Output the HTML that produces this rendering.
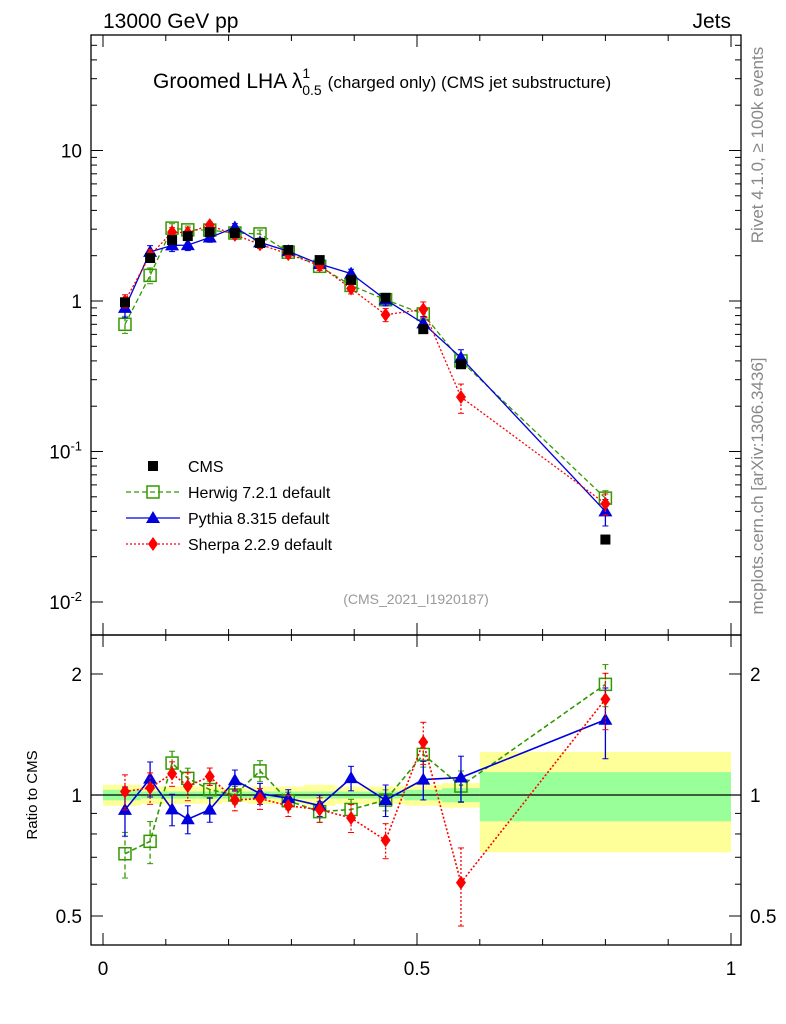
<!DOCTYPE html>
<html><head><meta charset="utf-8"><style>
body{margin:0;background:#fff;font-family:"Liberation Sans",sans-serif;}
svg{display:block}
text{font-family:"Liberation Sans",sans-serif;}
</style></head><body>
<svg id="c" width="786" height="1024" xmlns="http://www.w3.org/2000/svg"></svg>
<script>
const xs=[0.035,0.075,0.11,0.135,0.17,0.21,0.25,0.295,0.345,0.395,0.45,0.51,0.57,0.8];
const edges=[0,0.06,0.09,0.125,0.15,0.19,0.23,0.27,0.32,0.37,0.42,0.48,0.54,0.6,1.0];
const cms=[0.98,1.93,2.54,2.7,2.87,2.83,2.43,2.18,1.87,1.38,1.05,0.65,0.38,0.026];
const herwig=[0.70,1.48,3.05,2.97,2.96,2.83,2.79,2.11,1.70,1.27,1.02,0.82,0.40,0.049];
const pythia=[0.90,2.12,2.34,2.35,2.64,3.08,2.45,2.14,1.76,1.52,1.02,0.71,0.42,0.040];
const sherpa=[1.00,2.01,2.87,2.84,3.19,2.75,2.38,2.05,1.72,1.21,0.81,0.88,0.23,0.045];
const herwigErr=[0.13,0.12,0.07,0.06,0.05,0.05,0.06,0.05,0.06,0.06,0.06,0.07,0.09,0.12];
const pythiaErr=[0.14,0.10,0.09,0.08,0.07,0.06,0.06,0.05,0.06,0.07,0.09,0.11,0.13,0.20];
const sherpaErr=[0.10,0.09,0.07,0.08,0.05,0.06,0.06,0.06,0.07,0.08,0.10,0.12,0.22,0.16];
const bandOuter=[0.06,0.05,0.05,0.05,0.05,0.04,0.05,0.05,0.06,0.05,0.05,0.06,0.07,0.28];
const bandInner=[0.03,0.02,0.02,0.02,0.02,0.02,0.02,0.02,0.02,0.02,0.02,0.03,0.04,0.14];
const mainTicks=[["10",10],["1",1],["10^-1",0.1],["10^-2",0.01]];
const ratioTicks=[["2",2],["1",1],["0.5",0.5]];
const xTicks=[["0",0],["0.5",0.5],["1",1]];

const svg=document.getElementById('c');
const NS='http://www.w3.org/2000/svg';
function el(t,a,p){const e=document.createElementNS(NS,t);for(const k in a)e.setAttribute(k,a[k]);(p||svg).appendChild(e);return e;}
const X=v=>103+628*v;
const Y=v=>301-150.5*Math.log10(v);
const R=v=>795-402*Math.log10(v);
const L=91,Rt=741,T=35,M=635,B=945;

for(let i=0;i<xs.length;i++){
 const x0=X(edges[i]),x1=X(edges[i+1]);
 const b=el('rect',{x:x0,y:R(1+bandOuter[i]),width:x1-x0,height:R(1-bandOuter[i])-R(1+bandOuter[i]),fill:'#ffff99'});
 
 
}
for(let i=0;i<xs.length;i++){
 const x0=X(edges[i]),x1=X(edges[i+1]);
 const b=el('rect',{x:x0,y:R(1+bandInner[i]),width:x1-x0,height:R(1-bandInner[i])-R(1+bandInner[i]),fill:'#99ff99'});
 
 
}
el('line',{x1:L,x2:Rt,y1:R(1),y2:R(1),stroke:'#000','stroke-width':1.3});

el('rect',{x:L,y:T,width:Rt-L,height:M-T,fill:'none',stroke:'#000','stroke-width':1.3});
el('rect',{x:L,y:M,width:Rt-L,height:B-M,fill:'none',stroke:'#000','stroke-width':1.3});

for(let d=-2;d<=1;d++){for(let m=1;m<10;m++){const v=m*Math.pow(10,d);const y=Y(v);if(y<T||y>M)continue;const len=m==1?12:6;
 el('line',{x1:L,x2:L+len,y1:y,y2:y,stroke:'#000'});el('line',{x1:Rt,x2:Rt-len,y1:y,y2:y,stroke:'#000'});}}
for(const [lab,v] of mainTicks){
 const t=el('text',{x:82,y:Y(v)+7,'font-size':19,'text-anchor':'end'});
 if(lab.includes('^')){const p=lab.split('^');t.textContent=p[0];const s=el('tspan',{dy:-8,'font-size':13},t);s.textContent=p[1];}
 else t.textContent=lab;
 
 
}
for(const v of [0.5,0.6,0.7,0.8,0.9,1,2]){const y=R(v);const len=(v==1||v==2||v==0.5)?12:6;
 el('line',{x1:L,x2:L+len,y1:y,y2:y,stroke:'#000'});el('line',{x1:Rt,x2:Rt-len,y1:y,y2:y,stroke:'#000'});}
for(const [lab,v] of ratioTicks){
 const a=el('text',{x:82,y:R(v)+7,'font-size':19,'text-anchor':'end'});a.textContent=lab;
 
 
 const b=el('text',{x:750,y:R(v)+7,'font-size':19});b.textContent=lab;
 
 
}
for(let i=0;i<=10;i++){const v=i/10,x=X(v),len=i%5==0?12:6;
 el('line',{x1:x,x2:x,y1:B,y2:B-len,stroke:'#000'});el('line',{x1:x,x2:x,y1:M,y2:M-len,stroke:'#000'});
 el('line',{x1:x,x2:x,y1:M,y2:M+len,stroke:'#000'});el('line',{x1:x,x2:x,y1:T,y2:T+len,stroke:'#000'});}
for(const [lab,v] of xTicks){const t=el('text',{x:X(v),y:975,'font-size':19,'text-anchor':'middle'});t.textContent=lab;
 
 }

function marker(kind,x,y,color,g){
 if(kind=='sq')el('rect',{x:x-6,y:y-6,width:12,height:12,fill:'none',stroke:color,'stroke-width':1.5},g);
 if(kind=='tri')el('polygon',{points:`${x},${y-7} ${x-7},${y+5} ${x+7},${y+5}`,fill:color},g);
 if(kind=='dia')el('polygon',{points:`${x},${y-7} ${x-5},${y} ${x},${y+7} ${x+5},${y}`,fill:color},g);
 if(kind=='box')el('rect',{x:x-5,y:y-5,width:10,height:10,fill:color},g);
}
const series=[
 {name:'herwig',vals:herwig,err:herwigErr,color:'#339900',dash:'5,3',kind:'sq'},
 {name:'pythia',vals:pythia,err:pythiaErr,color:'#0000dd',dash:'',kind:'tri'},
 {name:'sherpa',vals:sherpa,err:sherpaErr,color:'#ff0000',dash:'2,2',kind:'dia'}];
for(const s of series){
 const g=el('g',{});
 
 
 const ptsM=xs.map((x,i)=>X(x)+','+Y(s.vals[i])).join(' ');
 el('polyline',{points:ptsM,fill:'none',stroke:s.color,'stroke-width':1.3,'stroke-dasharray':s.dash},g);
 const ptsR=xs.map((x,i)=>X(x)+','+R(s.vals[i]/cms[i])).join(' ');
 el('polyline',{points:ptsR,fill:'none',stroke:s.color,'stroke-width':1.6,'stroke-dasharray':s.dash},g);
 xs.forEach((x,i)=>{
  const v=s.vals[i],e=s.err[i],r=v/cms[i],px=X(x);
  for(const [f,a,b] of [[Y,v*(1+e),v*(1-e)],[R,r*(1+e),r*(1-e)]]){
   el('line',{x1:px,x2:px,y1:f(a),y2:f(b),stroke:s.color,'stroke-width':1.3,'stroke-dasharray':s.dash},g);
   el('line',{x1:px-3,x2:px+3,y1:f(a),y2:f(a),stroke:s.color},g);
   el('line',{x1:px-3,x2:px+3,y1:f(b),y2:f(b),stroke:s.color},g);
  }
  marker(s.kind,px,Y(v),s.color,g);
  marker(s.kind,px,R(r),s.color,g);
 });
}
const cg=el('g',{});


xs.forEach((x,i)=>marker('box',X(x),Y(cms[i]),'#000',cg));

const leg=[['CMS','box','#000',''],['Herwig 7.2.1 default','sq','#339900','5,3'],['Pythia 8.315 default','tri','#0000dd',''],['Sherpa 2.2.9 default','dia','#ff0000','2,2']];
leg.forEach((l,i)=>{const y=466+26*i;const g=el('g',{});
 
 
 if(i>0)el('line',{x1:126,x2:180,y1:y,y2:y,stroke:l[2],'stroke-width':1.3,'stroke-dasharray':l[3]},g);
 marker(l[1],153,y,l[2],g);
 const t=el('text',{x:188,y:y+6,'font-size':16},g);t.textContent=l[0];});

function txt(s,a,name){const t=el('text',a);t.textContent=s;return t;}
txt('13000 GeV pp',{x:103,y:28,'font-size':21},'energy-label');
txt('Jets',{x:731,y:28,'font-size':21,'text-anchor':'end'},'process-label');
const ti=el('text',{x:153,y:88,'font-size':21});


ti.innerHTML='Groomed LHA λ<tspan font-size="14" dy="-10">1</tspan><tspan font-size="14" dx="-8" dy="17">0.5</tspan><tspan dy="-7" font-size="17" dx="6">(charged only) (CMS jet substructure)</tspan>';
txt('(CMS_2021_I1920187)',{x:416,y:604,'font-size':14,fill:'#999','text-anchor':'middle'},'analysis-id');
txt('Ratio to CMS',{x:37,y:795,'font-size':15,'text-anchor':'middle',transform:'rotate(-90 37 795)'},'y-axis-title');
txt('Rivet 4.1.0, ≥ 100k events',{x:763,y:145,'font-size':17,fill:'#888','text-anchor':'middle',transform:'rotate(-90 763 145)'},'rivet-label');
txt('mcplots.cern.ch [arXiv:1306.3436]',{x:763,y:486,'font-size':17,fill:'#888','text-anchor':'middle',transform:'rotate(-90 763 486)'},'mcplots-label');
</script>
</body></html>
